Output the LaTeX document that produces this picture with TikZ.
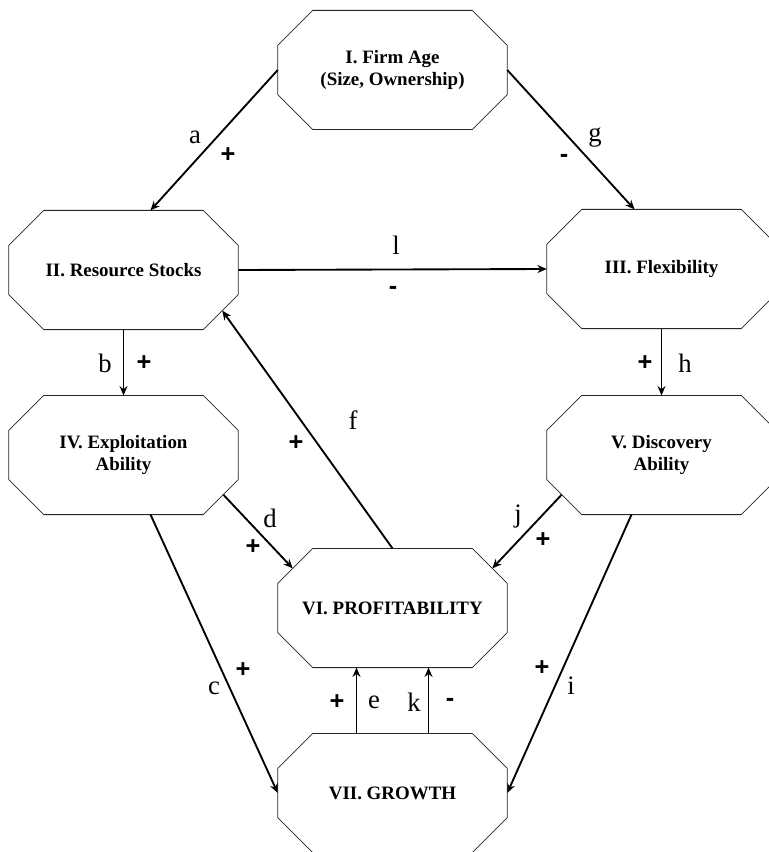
\documentclass[tikz,border=0pt]{standalone}
\usepackage{fontspec}
\setmainfont{Liberation Serif}
\newfontfamily\signfont{Liberation Sans}
\usetikzlibrary{arrows.meta}

\begin{document}
\begin{tikzpicture}[
        x = 0.75pt, y = -0.75pt, % pixel grid of the figure
        > = {Stealth[length=7pt, width=6pt]}, % arrow head style
        box/.style = {rectangle, minimum width=171.75pt, minimum height=89pt,
            inner sep=0pt, align=center,
            font=\fontsize{14.2}{16.3}\selectfont\bfseries},
        rim/.style = {line width=0.6pt, draw=black!85},
        link/.style = {->, line width=1.4pt},
        lbl/.style = {inner sep=0pt, font=\fontsize{20}{24}\selectfont},
        sgn/.style = {inner sep=0pt, font=\signfont\bfseries\fontsize{19}{22}\selectfont},
    ]
        \useasboundingbox (0,0) rectangle (768,852);
        \def\chamfer{26.25pt} % cut of the corners

        % Draw the nodes
        \foreach \pos/\name/\txt in {
            (392.5,70)/age/{I. Firm Age\\(Size, Ownership)},
            (123.5,270)/stocks/{II. Resource Stocks},
            (661.5,269)/flex/{III. Flexibility},
            (123.5,455)/exploit/{IV. Exploitation\\Ability},
            (661.5,455)/discover/{V. Discovery\\Ability},
            (392.5,608)/profit/{VI. PROFITABILITY},
            (392.5,793)/growth/{VII. GROWTH}} {
            \node[box] (\name) at \pos {\txt};
            \draw[rim] ([xshift=\chamfer]\name.north west)
                -- ([xshift=-\chamfer]\name.north east)
                -- ([yshift=-\chamfer]\name.north east)
                -- ([yshift=\chamfer]\name.south east)
                -- ([xshift=-\chamfer]\name.south east)
                -- ([xshift=\chamfer]\name.south west)
                -- ([yshift=\chamfer]\name.south west)
                -- ([yshift=-\chamfer]\name.north west) -- cycle;
        }

        % Draw the edges
        \foreach \b/\bs/\e/\es in {
            age.west/{(0,0)}/stocks.north/{(27,0)},
            age.east/{(0,0)}/flex.north/{(-27,0)},
            stocks.east/{(0,0)}/flex.west/{(0,0)},
            stocks.south/{(0,0)}/exploit.north/{(0,0)},
            flex.south/{(0,0)}/discover.north/{(0,0)},
            exploit.south east/{(-15,-20)}/profit.north west/{(15,20)},
            discover.south west/{(15,-20)}/profit.north east/{(-15,20)},
            profit.north/{(0,0)}/stocks.south east/{(-16,-19)},
            exploit.south/{(27,0)}/growth.west/{(0,0)},
            discover.south/{(-30,0)}/growth.east/{(0,0)},
            growth.north/{(-36,0)}/profit.south/{(-36,0)},
            growth.north/{(36,0)}/profit.south/{(36,0)}} {
            \draw[link] ([shift={\bs}]\b) -- ([shift={\es}]\e);
        }

        % Path letters
        \foreach \pos/\i in {
            (195,137)/a, (595,138)/g, (396,245)/l,
            (105,363)/b, (685,363)/h, (270,518)/d,
            (518,517)/j, (353,420)/f, (214,688)/c,
            (571,686)/i, (374,702)/e, (414,702)/k} {
            \node[lbl] (lbl-\i) at \pos {\i};
        }

        % Signs of the effects
        \foreach \pos/\i/\s in {
            (228,155)/a/+, (564,158)/g/-, (393,290)/l/-,
            (144,363)/b/+, (645,363)/h/+, (253,547)/d/+,
            (543,540)/j/+, (296,443)/f/+, (243,670)/c/+,
            (542,668)/i/+, (337,702)/e/+, (450,702)/k/-} {
            \node[sgn] (sgn-\i) at \pos {\s};
        }
    \end{tikzpicture}
\end{document}
